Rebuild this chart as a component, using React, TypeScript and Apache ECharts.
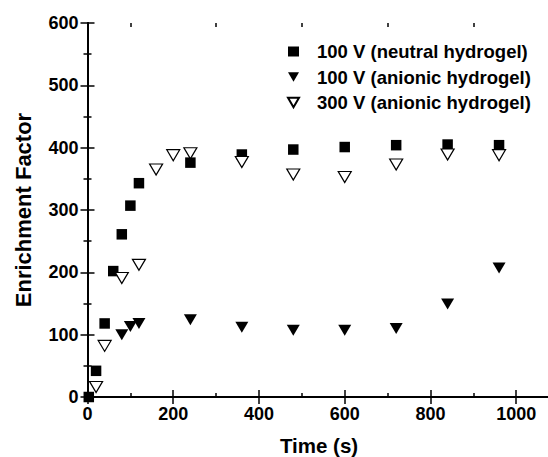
import React, { useEffect, useRef } from "react";
import * as echarts from "echarts";

// Enrichment factor vs. time, [time (s), enrichment factor]
const neutral100V: [number, number][] = [
  [3, 0], [20, 42], [40, 118], [60, 202], [80, 261], [100, 307], [120, 343],
  [240, 376], [360, 389], [480, 397], [600, 401], [720, 404], [840, 405], [960, 404],
];
const anionic100V: [number, number][] = [
  [80, 100], [100, 113], [120, 118], [240, 124], [360, 112], [480, 107],
  [600, 107], [720, 110], [840, 149], [960, 207],
];
const anionic300V: [number, number][] = [
  [20, 16], [40, 82], [80, 191], [120, 212], [160, 365], [200, 388], [240, 391],
  [360, 377], [480, 357], [600, 353], [720, 373], [840, 389], [960, 388],
];

const seriesNames = [
  "100 V (neutral hydrogel)",
  "100 V (anionic hydrogel)",
  "300 V (anionic hydrogel)",
];

const xMajorTicks = [0, 200, 400, 600, 800, 1000];
const xMinorTicks = [100, 300, 500, 700, 900];

const FONT = "Liberation Sans, Arial, sans-serif";
const DOWN_TRIANGLE = "path://M0,0L14,0L7,12Z";

export default function App() {
  const ref = useRef<HTMLDivElement>(null);

  useEffect(() => {
    if (!ref.current) return;
    const chart = echarts.init(ref.current, null, { renderer: "svg" });

    const gridRect = { left: 87.5, top: 23, right: -2.5, bottom: 60, outerBoundsMode: "none" as const };
    const axisLine = { show: true, lineStyle: { color: "#000", width: 2 } };
    const xRange = { min: 0, max: 1080 };
    const boldText = { fontFamily: FONT, fontWeight: "bold" as const, color: "#000" };
    const plain = (v: number) => String(v);

    chart.setOption({
      animation: false,
      backgroundColor: "#fff",
      grid: [gridRect, { ...gridRect, show: false }],
      legend: {
        orient: "vertical",
        left: 282,
        top: 37,
        itemWidth: 11,
        itemHeight: 10,
        itemGap: 6.5,
        data: seriesNames,
        textStyle: { ...boldText, fontSize: 18.5, lineHeight: 16, padding: [0, 0, 0, 13] },
      },
      xAxis: [
        {
          type: "value",
          gridIndex: 0,
          position: "bottom",
          ...xRange,
          axisLine,
          axisTick: { show: true, inside: true, length: 7, customValues: xMajorTicks, lineStyle: { color: "#000", width: 1.5 } },
          axisLabel: { customValues: xMajorTicks, formatter: plain, margin: 8, fontSize: 18, ...boldText },
          splitLine: { show: false },
          name: "Time (s)",
          nameLocation: "middle",
          nameGap: 38,
          nameMoveOverlap: false,
          nameTextStyle: { ...boldText, fontSize: 20.5 },
        },
        {
          type: "value",
          gridIndex: 0,
          position: "top",
          ...xRange,
          axisLine,
          axisTick: { show: true, inside: true, length: 7, customValues: xMajorTicks, lineStyle: { color: "#000", width: 1.5 } },
          axisLabel: { show: false },
          splitLine: { show: false },
        },
        {
          type: "value",
          gridIndex: 1,
          position: "bottom",
          ...xRange,
          axisLine: { show: false },
          axisTick: { show: true, inside: true, length: 4, customValues: xMinorTicks, lineStyle: { color: "#000", width: 1.5 } },
          axisLabel: { show: false },
          splitLine: { show: false },
        },
        {
          type: "value",
          gridIndex: 1,
          position: "top",
          ...xRange,
          axisLine: { show: false },
          axisTick: { show: true, inside: true, length: 4, customValues: xMinorTicks, lineStyle: { color: "#000", width: 1.5 } },
          axisLabel: { show: false },
          splitLine: { show: false },
        },
      ],
      yAxis: [
        {
          type: "value",
          gridIndex: 0,
          position: "left",
          min: 0,
          max: 600,
          interval: 100,
          axisLine,
          axisTick: { show: true, inside: true, length: 7, lineStyle: { color: "#000", width: 1.5 } },
          minorTick: { show: true, splitNumber: 2, length: 4, lineStyle: { color: "#000", width: 1.5 } },
          axisLabel: { formatter: plain, margin: 9, fontSize: 18, ...boldText },
          splitLine: { show: false },
          name: "Enrichment Factor",
          nameLocation: "middle",
          nameGap: 53,
          nameMoveOverlap: false,
          nameTextStyle: { ...boldText, fontSize: 22 },
        },
        {
          type: "value",
          gridIndex: 0,
          position: "right",
          min: 0,
          max: 600,
          interval: 100,
          axisLine,
          axisTick: { show: true, inside: true, length: 7, lineStyle: { color: "#000", width: 1.5 } },
          minorTick: { show: true, splitNumber: 2, length: 4, lineStyle: { color: "#000", width: 1.5 } },
          axisLabel: { show: false },
          splitLine: { show: false },
        },
        {
          type: "value",
          gridIndex: 1,
          min: 0,
          max: 600,
          show: false,
        },
      ],
      series: [
        {
          type: "scatter",
          name: seriesNames[0],
          xAxisIndex: 0,
          yAxisIndex: 0,
          data: neutral100V,
          symbol: "rect",
          symbolSize: 10.5,
          itemStyle: { color: "#000", opacity: 1 },
        },
        {
          type: "scatter",
          name: seriesNames[1],
          xAxisIndex: 0,
          yAxisIndex: 0,
          data: anionic100V,
          symbol: DOWN_TRIANGLE,
          symbolSize: [13, 11],
          itemStyle: { color: "#000", opacity: 1 },
        },
        {
          type: "scatter",
          name: seriesNames[2],
          xAxisIndex: 0,
          yAxisIndex: 0,
          data: anionic300V,
          symbol: DOWN_TRIANGLE,
          symbolSize: [13, 11],
          itemStyle: { color: "#fff", borderColor: "#000", borderWidth: 1.2, opacity: 1 },
        },
      ],
    });

    return () => chart.dispose();
  }, []);

  return (
    <div
      ref={ref}
      style={{ position: "fixed", left: 0, top: 0, width: 548, height: 457 }}
    />
  );
}
